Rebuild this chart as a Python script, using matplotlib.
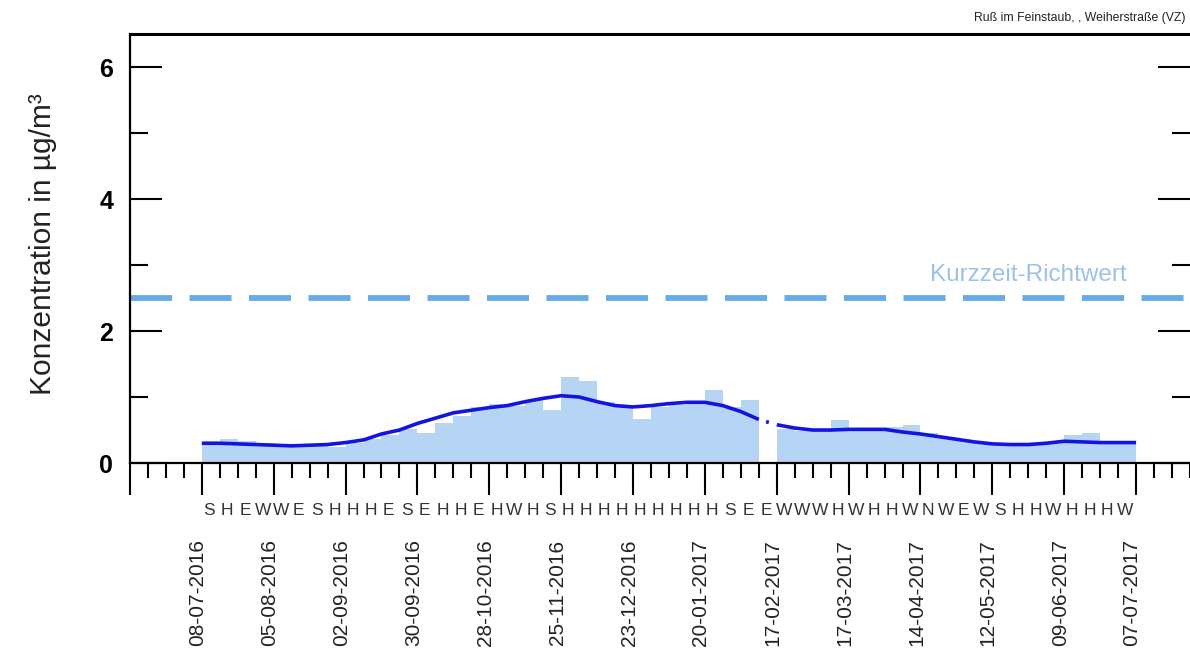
import numpy as np
import matplotlib.pyplot as plt
from matplotlib.transforms import ScaledTranslation

sans = ['Liberation Sans', 'DejaVu Sans']

# weekly soot (Ruß) values, one bar per week starting 08-07-2016; week 31 has no data
weekly = [0.30, 0.36, 0.34, 0.30, 0.24, 0.26, 0.27, 0.25, 0.30, 0.36,
          0.42, 0.52, 0.45, 0.60, 0.72, 0.85, 0.90, 0.86, 0.95, 0.80,
          1.30, 1.25, 0.92, 0.88, 0.66, 0.85, 0.88, 0.92, 1.10, 0.85,
          0.95, np.nan, 0.52, 0.48, 0.50, 0.65, 0.52, 0.48, 0.55, 0.58,
          0.45, 0.40, 0.34, 0.30, 0.28, 0.27, 0.30, 0.30, 0.42, 0.45,
          0.32, 0.30]

# smoothed trend at the week boundaries 0..52
trend = [0.30, 0.30, 0.29, 0.28, 0.27, 0.26, 0.27, 0.28, 0.31, 0.35,
         0.44, 0.50, 0.60, 0.68, 0.76, 0.80, 0.84, 0.87, 0.93, 0.98,
         1.02, 1.00, 0.93, 0.87, 0.85, 0.87, 0.90, 0.92, 0.92, 0.87,
         0.78, 0.66, 0.58, 0.53, 0.50, 0.50, 0.51, 0.51, 0.51, 0.47,
         0.44, 0.40, 0.36, 0.32, 0.29, 0.28, 0.28, 0.30, 0.33, 0.32,
         0.31, 0.31, 0.31]

# weather type per week
wetter = list('SHEWWESHHHESEHHEHWHSHHHHHHHHHSEEWWWHWHHWNWEWSHHWHHHW')

dates = ['08-07-2016', '05-08-2016', '02-09-2016', '30-09-2016', '28-10-2016',
         '25-11-2016', '23-12-2016', '20-01-2017', '17-02-2017', '17-03-2017',
         '14-04-2017', '12-05-2017', '09-06-2017', '07-07-2017']

richtwert = 2.5

fig = plt.figure(figsize=(11.9, 6.55), dpi=100)
ax = fig.add_axes([0.1092, 0.2931, 0.8908, 0.6549])

weeks = np.arange(len(weekly))
ax.bar(weeks + 0.5, weekly, width=1.0, color='#b6d5f5', linewidth=0, zorder=1)

# trend line, dotted across the missing week
t = np.array(trend)
tx = np.arange(len(trend))
ax.plot(tx[:32], t[:32], color='#1414e0', lw=2.6, zorder=3, solid_capstyle='butt')
ax.plot(tx[31:33], t[31:33], color='#1414e0', lw=2.6, zorder=3,
        linestyle=(1.2, (0.8, 2.5)))
ax.plot(tx[32:], t[32:], color='#1414e0', lw=2.6, zorder=3, solid_capstyle='butt')

# short-term guide value
ax.axhline(richtwert, color='#66aae8', lw=4.2, linestyle=(0, (7.2, 3.0)), zorder=2)
ax.text(51.5, richtwert + 0.35, 'Kurzzeit-Richtwert', color='#9cc2ea',
        fontsize=17.5, family=sans, ha='right', va='center')

ax.set_xlim(-4, 55)
ax.set_ylim(0, 6.5)

major = np.arange(-4, 53, 4)
ax.set_xticks(major, [''] + dates, rotation=90, family=sans, fontsize=15,
              color='#222222')
ax.set_xticks(np.arange(-4, 56), minor=True)
ax.tick_params(axis='x', which='major', direction='out', length=23, width=1.5, pad=32)
ax.tick_params(axis='x', which='minor', direction='out', length=11, width=1.5)
shift = ScaledTranslation(-4 / 100, 0, fig.dpi_scale_trans)
for lab in ax.get_xticklabels():
    lab.set_horizontalalignment('center')
    lab.set_transform(lab.get_transform() + shift)

ax.set_yticks([0, 2, 4, 6], ['0', '2', '4', '6'], family=sans, fontsize=18,
              fontweight='bold')
ax.set_yticks([1, 3, 5], minor=True)
ax.tick_params(axis='y', which='both', direction='in', left=True, right=True,
               width=1.5, pad=12)
ax.tick_params(axis='y', which='major', length=23)
ax.tick_params(axis='y', which='minor', length=13)

for i, w in enumerate(wetter):
    ax.annotate(w, (i + 0.4, 0), xytext=(0, -34), textcoords='offset points',
                ha='center', va='center', fontsize=12.5, family=sans,
                color='#333333')

ax.set_ylabel('Konzentration in µg/m³', family=sans, fontsize=21.5,
              color='#222222')
ax.yaxis.set_label_coords(-0.069, 0.51)

ax.spines['right'].set_visible(False)
ax.spines['top'].set_linewidth(2.2)
ax.spines['left'].set_linewidth(1.6)
ax.spines['bottom'].set_linewidth(1.6)

fig.text(0.996, 0.963, 'Ruß im Feinstaub, , Weiherstraße (VZ)', ha='right',
         va='bottom', fontsize=8.8, family=sans, color='#222222')

fig.savefig('out.png', dpi=100)
